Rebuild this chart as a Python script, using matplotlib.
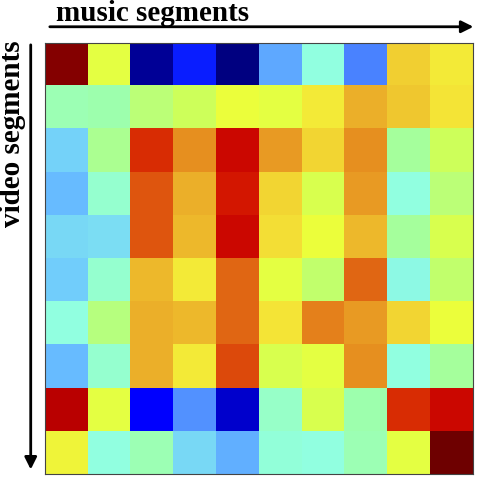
import numpy as np
import matplotlib.pyplot as plt
from matplotlib.colors import LinearSegmentedColormap

# similarity between video segments (rows) and music segments (cols)
row0 = [0.98, 0.64, 0.02, 0.13, 0.00, 0.30, 0.45, 0.24, 0.73, 0.69]
row1 = [0.50, 0.51, 0.57, 0.60, 0.65, 0.64, 0.69, 0.77, 0.74, 0.70]
row2 = [0.37, 0.54, 0.87, 0.80, 0.91, 0.79, 0.72, 0.80, 0.53, 0.60]
row3 = [0.33, 0.47, 0.84, 0.77, 0.89, 0.72, 0.62, 0.79, 0.45, 0.57]
row4 = [0.38, 0.39, 0.84, 0.76, 0.91, 0.71, 0.65, 0.76, 0.53, 0.62]
row5 = [0.36, 0.47, 0.76, 0.69, 0.83, 0.64, 0.58, 0.83, 0.44, 0.58]
row6 = [0.45, 0.56, 0.77, 0.76, 0.83, 0.70, 0.81, 0.79, 0.72, 0.65]
row7 = [0.33, 0.47, 0.77, 0.69, 0.85, 0.62, 0.64, 0.80, 0.45, 0.53]
row8 = [0.93, 0.64, 0.11, 0.26, 0.07, 0.48, 0.62, 0.51, 0.87, 0.91]
row9 = [0.67, 0.45, 0.50, 0.38, 0.31, 0.46, 0.45, 0.50, 0.64, 1.00]
sim = np.array([row0, row1, row2, row3, row4, row5, row6, row7, row8, row9])

# a softened jet
anchors = [
    (0.00, (0, 0, 128)),
    (0.11, (0, 0, 255)),
    (0.13, (10, 30, 255)),
    (0.25, (80, 140, 255)),
    (0.35, (110, 200, 255)),
    (0.45, (145, 255, 225)),
    (0.52, (160, 255, 165)),
    (0.60, (205, 255, 90)),
    (0.65, (235, 255, 60)),
    (0.70, (245, 230, 55)),
    (0.78, (235, 170, 40)),
    (0.83, (225, 105, 20)),
    (0.88, (215, 30, 0)),
    (0.92, (200, 0, 0)),
    (1.00, (110, 0, 0)),
]
cmap = LinearSegmentedColormap.from_list(
    "softjet", [(p, tuple(c / 255 for c in rgb)) for p, rgb in anchors])

fig = plt.figure(figsize=(4.8, 4.78), dpi=100)
ax = fig.add_axes([0.094, 0.008, 0.891, 0.902])
ax.imshow(sim, cmap=cmap, vmin=0, vmax=1, aspect='auto', interpolation='nearest')
ax.set_xticks([])
ax.set_yticks([])
for s in ax.spines.values():
    s.set_color('#444444')
    s.set_linewidth(0.8)

font = dict(family='Liberation Serif', weight='bold', fontsize=21)
fig.text(0.116, 0.972, 'music segments', ha='left', va='center', **font)
fig.text(0.026, 0.72, 'video segments', ha='center', va='center', rotation=90, **font)

ax.annotate('', xy=(0.992, 0.944), xytext=(0.098, 0.944), xycoords='figure fraction',
            arrowprops=dict(arrowstyle='-|>', color='black', lw=2, mutation_scale=18))
ax.annotate('', xy=(0.064, 0.012), xytext=(0.064, 0.912), xycoords='figure fraction',
            arrowprops=dict(arrowstyle='-|>', color='black', lw=2, mutation_scale=18))

plt.savefig('out.png')
